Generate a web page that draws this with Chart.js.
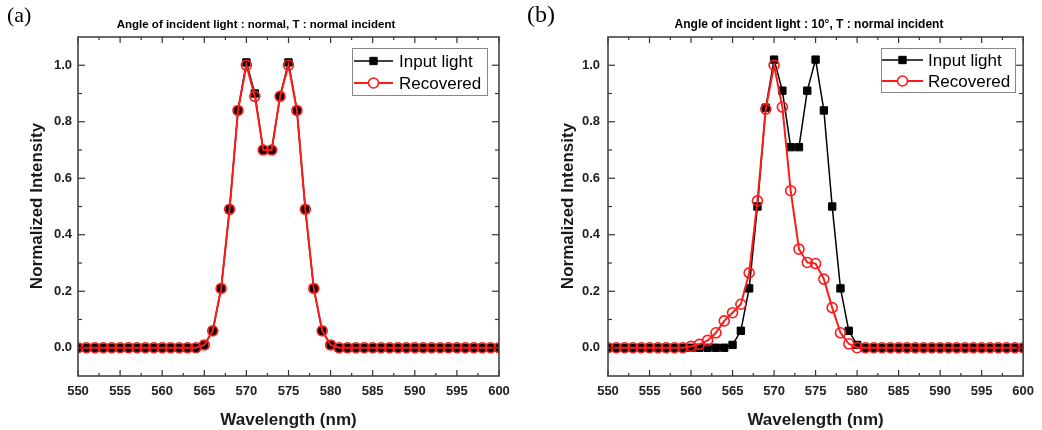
<!DOCTYPE html>
<html>
<head>
<meta charset="utf-8">
<script src="https://cdn.jsdelivr.net/npm/chart.js@4.4.1/dist/chart.umd.min.js"></script>
<style>
  html, body { margin: 0; padding: 0; background: #fff; }
  #wrap { position: relative; width: 1042px; height: 430px; }
  .panel { position: absolute; top: 0; width: 521px; height: 430px; }
</style>
</head>
<body>
<div id="wrap">
  <div class="panel" style="left:0"><canvas id="chartA"></canvas></div>
  <div class="panel" style="left:521px"><canvas id="chartB"></canvas></div>
</div>
<script>
// wavelength axis (nm)
const wavelength = [550,551,552,553,554,555,556,557,558,559,
  560,561,562,563,564,565,566,567,568,569,
  570,571,572,573,574,575,576,577,578,579,
  580,581,582,583,584,585,586,587,588,589,
  590,591,592,593,594,595,596,597,598,599,600];

// (a) normal incidence
const inputA = [0,0,0,0,0,0,0,0,0,0,
  0,0,0,0,0,0.01,0.06,0.21,0.49,0.84,
  1.01,0.90,0.70,0.70,0.89,1.01,0.84,0.49,0.21,0.06,
  0.01,0,0,0,0,0,0,0,0,0,
  0,0,0,0,0,0,0,0,0,0,0];
const recoveredA = [0,0,0,0,0,0,0,0,0,0,
  0,0,0,0,0,0.01,0.06,0.21,0.49,0.84,
  1.00,0.89,0.70,0.70,0.89,1.00,0.84,0.49,0.21,0.06,
  0.01,0,0,0,0,0,0,0,0,0,
  0,0,0,0,0,0,0,0,0,0,0];

// (b) 10 degree incidence
const inputB = [0,0,0,0,0,0,0,0,0,0,
  0,0,0,0,0,0.01,0.06,0.21,0.50,0.85,
  1.02,0.91,0.71,0.71,0.91,1.02,0.84,0.50,0.21,0.06,
  0.01,0,0,0,0,0,0,0,0,0,
  0,0,0,0,0,0,0,0,0,0,0];
const recoveredB = [0,0,0,0,0,0,0,0,0,0,
  0.005,0.012,0.026,0.053,0.095,0.124,0.154,0.265,0.52,0.845,
  1.00,0.852,0.556,0.349,0.302,0.298,0.243,0.142,0.053,0.014,
  0,0,0,0,0,0,0,0,0,0,
  0,0,0,0,0,0,0,0,0,0,0];

const xTicks = [550,555,560,565,570,575,580,585,590,595,600];
const yTicks = [0,0.2,0.4,0.6,0.8,1.0];
const seriesNames = ['Input light', 'Recovered'];
const titleA = 'Angle of incident light : normal, T : normal incident';
const titleB = 'Angle of incident light : 10\u00b0, T : normal incident';

const FONT = "'Liberation Sans', Arial, sans-serif";

// frame, inward ticks, legend and texts
const framePlugin = {
  id: 'frame',
  afterDraw(chart, args, o) {
    const { ctx, chartArea: a, scales: { x, y } } = chart;
    ctx.save();
    ctx.strokeStyle = '#333';
    ctx.lineWidth = 1.2;
    const tick = (px, py, dx, dy) => { ctx.beginPath(); ctx.moveTo(px, py); ctx.lineTo(px + dx, py + dy); ctx.stroke(); };
    xTicks.forEach((v, i) => {
      const px = x.getPixelForValue(v);
      tick(px, a.bottom, 0, -6); tick(px, a.top, 0, 6);
      if (i < xTicks.length - 1) {
        const pm = x.getPixelForValue((v + xTicks[i + 1]) / 2);
        tick(pm, a.bottom, 0, -3); tick(pm, a.top, 0, 3);
      }
    });
    yTicks.forEach((v, i) => {
      const py = y.getPixelForValue(v);
      tick(a.left, py, 7, 0); tick(a.right, py, -7, 0);
      if (i < yTicks.length - 1) {
        const pm = y.getPixelForValue((v + yTicks[i + 1]) / 2);
        tick(a.left, pm, 4, 0); tick(a.right, pm, -4, 0);
      }
    });
    // frame
    ctx.lineWidth = 1.6;
    ctx.strokeStyle = '#444';
    ctx.strokeRect(a.left, a.top, a.right - a.left, a.bottom - a.top);

    // legend
    const L = o.legend;
    ctx.fillStyle = '#fff';
    ctx.fillRect(L.x, L.y, L.w, L.h);
    ctx.lineWidth = 1;
    ctx.strokeStyle = '#888';
    ctx.strokeRect(L.x + 0.5, L.y + 0.5, L.w, L.h);
    chart.data.datasets.forEach((ds, i) => {
      const ry = L.rows[i];
      const mx = (L.x1 + L.x2) / 2;
      ctx.strokeStyle = ds.borderColor;
      ctx.lineWidth = ds.borderWidth;
      ctx.beginPath(); ctx.moveTo(L.x1, ry); ctx.lineTo(L.x2, ry); ctx.stroke();
      ctx.save();
      ctx.fillStyle = ds.legendFill;
      ctx.strokeStyle = ds.pointBorderColor;
      ctx.lineWidth = ds.pointBorderWidth;
      ctx.beginPath();
      if (ds.pointStyle === 'rect') {
        const s = ds.pointRadius * Math.SQRT1_2;
        ctx.rect(mx - s, ry - s, 2 * s, 2 * s);
      } else {
        ctx.arc(mx, ry, ds.pointRadius, 0, Math.PI * 2);
      }
      ctx.fill(); ctx.stroke();
      ctx.restore();
      ctx.fillStyle = '#000';
      ctx.font = '17px ' + FONT;
      ctx.textAlign = 'left';
      ctx.textBaseline = 'middle';
      ctx.fillText(ds.label, L.tx, ry + 1);
    });

    // texts
    ctx.fillStyle = '#000';
    ctx.textBaseline = 'middle';
    ctx.textAlign = 'left';
    ctx.font = o.tagFont + " 'Liberation Serif', 'Times New Roman', serif";
    ctx.fillText(o.tag, o.tagX, 16);
    ctx.textAlign = 'center';
    ctx.font = 'bold ' + o.titleSize + 'px ' + FONT;
    ctx.fillText(o.title, o.titleX, 25);
    ctx.fillStyle = '#1a1a1a';
    ctx.font = 'bold 17px ' + FONT;
    ctx.fillText('Wavelength (nm)', (a.left + a.right) / 2, 420);
    ctx.save();
    ctx.translate(o.yTitleX, 206);
    ctx.rotate(-Math.PI / 2);
    ctx.font = 'bold 17px ' + FONT;
    ctx.fillText('Normalized Intensity', 0, 0);
    ctx.restore();
    ctx.restore();
  }
};

function makeChart(id, input, recovered, p) {
  const ctx = document.getElementById(id).getContext('2d');
  return new Chart(ctx, {
    type: 'line',
    data: {
      datasets: [
        {
          label: seriesNames[0],
          data: wavelength.map((w, i) => ({ x: w, y: input[i] })),
          borderColor: '#000', borderWidth: 1.5,
          pointStyle: 'rect', pointRadius: 5.2,
          pointBackgroundColor: '#000', pointBorderColor: '#000', pointBorderWidth: 1,
          legendFill: '#000',
          order: 1
        },
        {
          label: seriesNames[1],
          data: wavelength.map((w, i) => ({ x: w, y: recovered[i] })),
          borderColor: '#ff1a1a', borderWidth: 2,
          pointStyle: 'circle', pointRadius: 5,
          pointBackgroundColor: 'rgba(255,255,255,0)', pointBorderColor: '#ff1a1a', pointBorderWidth: 1.6,
          legendFill: '#fff',
          order: 0
        }
      ]
    },
    options: {
      responsive: false,
      animation: false,
      layout: { padding: { top: 37, right: p.padRight, left: 0, bottom: 0 } },
      plugins: { legend: { display: false }, tooltip: { enabled: false }, frame: p },
      scales: {
        x: {
          type: 'linear', min: 550, max: 600,
          grid: { display: false, drawTicks: false },
          border: { display: false },
          afterFit: s => { s.height = 54; },
          afterBuildTicks: s => { s.ticks = xTicks.map(v => ({ value: v })); },
          ticks: { padding: 8, color: '#222', maxRotation: 0, autoSkip: false,
                   font: { family: "'Liberation Sans Narrow', " + FONT, size: 13, weight: 'bold' } }
        },
        y: {
          min: -0.1, max: 1.1,
          grid: { display: false, drawTicks: false },
          border: { display: false },
          afterFit: s => { s.width = p.yWidth; },
          afterBuildTicks: s => { s.ticks = yTicks.map(v => ({ value: v })); },
          ticks: { padding: p.yPad, color: '#222', callback: v => v.toFixed(1),
                   font: { family: FONT, size: 13, weight: 'bold' } }
        }
      }
    },
    plugins: [framePlugin]
  });
}

[document.getElementById('chartA'), document.getElementById('chartB')].forEach(c => { c.width = 521; c.height = 430; });

makeChart('chartA', inputA, recoveredA, {
  padRight: 22, yWidth: 78, yPad: 6,
  tag: '(a)', tagX: 7, tagFont: '22px',
  title: titleA, titleX: 256, titleSize: 11.5,
  yTitleX: 37,
  legend: { x: 352, y: 48, w: 135, h: 47, rows: [61, 83], x1: 354, x2: 393, tx: 399 }
});

makeChart('chartB', inputB, recoveredB, {
  padRight: 13, yWidth: 87, yPad: 8,
  tag: '(b)', tagX: 6, tagFont: '24px',
  title: titleB, titleX: 288, titleSize: 12,
  yTitleX: 47,
  legend: { x: 360, y: 48, w: 134, h: 44, rows: [60, 81], x1: 361, x2: 402, tx: 407 }
});
</script>
</body>
</html>
